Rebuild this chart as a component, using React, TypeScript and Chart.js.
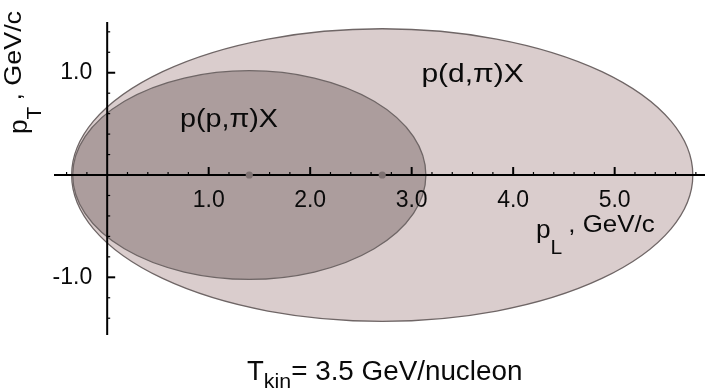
import React, { useEffect, useRef } from "react";
import { Chart, registerables } from "chart.js";

Chart.register(...registerables);

// Kinematic ellipses (p_L centre, semi-axis along p_L, semi-axis along p_T), GeV/c
const reactions = ["p(d,\u03c0)X", "p(p,\u03c0)X"];
const centerPL = [2.71, 1.4];
const semiPL = [3.06, 1.74];
const semiPT = [1.43, 1.02];

const xTickValues = [1, 2, 3, 4, 5];
const xTickLabels = ["1.0", "2.0", "3.0", "4.0", "5.0"];
const yTickValues = [1, -1];
const yTickLabels = ["1.0", "-1.0"];

const fills = ["#dacdcd", "#ac9d9d"];
const FONT = '"Liberation Sans", Arial, Helvetica, sans-serif';

// draws text stretched horizontally; returns advance width
function stretchedText(ctx: any, text: string, x: number, y: number, size: number, sx: number) {
  ctx.save();
  ctx.font = `${size}px ${FONT}`;
  ctx.translate(x, y);
  ctx.scale(sx, 1);
  ctx.fillText(text, 0, 0);
  const w = ctx.measureText(text).width * sx;
  ctx.restore();
  return w;
}

const kinematicsPlugin = {
  id: "kinematics",
  beforeDatasetsDraw(chart: any) {
    const { ctx, chartArea } = chart;
    const x = chart.scales.x;
    const y = chart.scales.y;
    const x0 = x.getPixelForValue(0);
    const y0 = y.getPixelForValue(0);
    ctx.save();
    for (let i = 0; i < reactions.length; i++) {
      const cx = x.getPixelForValue(centerPL[i]);
      const rx = x.getPixelForValue(centerPL[i] + semiPL[i]) - cx;
      const ry = y0 - y.getPixelForValue(semiPT[i]);
      ctx.beginPath();
      ctx.ellipse(cx, y0, rx, ry, 0, 0, Math.PI * 2);
      ctx.fillStyle = fills[i];
      ctx.fill();
      ctx.strokeStyle = "#6f6666";
      ctx.lineWidth = 1.3;
      ctx.stroke();
    }
    ctx.strokeStyle = "#000";
    ctx.lineWidth = 2;
    ctx.beginPath();
    ctx.moveTo(chartArea.left, y0);
    ctx.lineTo(chartArea.right, y0);
    ctx.moveTo(x0, chartArea.top);
    ctx.lineTo(x0, chartArea.bottom);
    ctx.stroke();
    const xs = Math.ceil(x.min * 5);
    const xe = Math.floor(x.max * 5);
    for (let k = xs; k <= xe; k++) {
      if (k === 0) continue;
      const px = x.getPixelForValue(k / 5);
      const major = k % 5 === 0;
      ctx.lineWidth = major ? 2 : 1.2;
      ctx.beginPath();
      ctx.moveTo(px, y0);
      ctx.lineTo(px, y0 - (major ? 8 : 3));
      ctx.stroke();
    }
    const ys = Math.ceil(y.min * 5);
    const ye = Math.floor(y.max * 5);
    for (let k = ys; k <= ye; k++) {
      if (k === 0) continue;
      const py = y.getPixelForValue(k / 5);
      const major = k % 5 === 0;
      ctx.lineWidth = major ? 2 : 1.2;
      ctx.beginPath();
      ctx.moveTo(x0, py);
      ctx.lineTo(x0 + (major ? 8 : 3), py);
      ctx.stroke();
    }
    ctx.restore();
  },
  afterDatasetsDraw(chart: any) {
    const { ctx } = chart;
    const x = chart.scales.x;
    const y = chart.scales.y;
    const x0 = x.getPixelForValue(0);
    const y0 = y.getPixelForValue(0);
    ctx.save();
    ctx.fillStyle = "#0a0a0a";
    ctx.font = `23px ${FONT}`;
    ctx.textBaseline = "middle";
    ctx.textAlign = "center";
    xTickValues.forEach((v, i) => {
      ctx.fillText(xTickLabels[i], x.getPixelForValue(v), y0 + 26);
    });
    ctx.textAlign = "right";
    yTickValues.forEach((v, i) => {
      ctx.fillText(yTickLabels[i], x0 - 15, y.getPixelForValue(v));
    });
    // reaction labels
    ctx.textAlign = "center";
    stretchedText(ctx, reactions[0], x.getPixelForValue(3.6), y.getPixelForValue(0.98), 25, 1.2);
    stretchedText(ctx, reactions[1], x.getPixelForValue(1.2), y.getPixelForValue(0.54), 25, 1.15);

    // x axis title
    ctx.textAlign = "left";
    ctx.textBaseline = "alphabetic";
    let tx = 536;
    const tyb = 238;
    tx += stretchedText(ctx, "p", tx, tyb, 25, 1.05);
    tx += stretchedText(ctx, "L", tx, tyb + 16, 20, 1.05) + 6;
    stretchedText(ctx, ", GeV/c", tx, tyb - 6, 24, 1.08);

    // y axis title (rotated)
    ctx.save();
    ctx.translate(27, 134);
    ctx.rotate(-Math.PI / 2);
    let ty = 0;
    ty += stretchedText(ctx, "p", ty, 0, 25, 1.05);
    ty += stretchedText(ctx, "T", ty, 14, 20, 1.05) + 6;
    stretchedText(ctx, ", GeV/c", ty, -6, 24, 1.12);
    ctx.restore();

    // caption
    let cx = 247;
    const cyb = 380;
    cx += stretchedText(ctx, "T", cx, cyb, 27, 1.02);
    cx += stretchedText(ctx, "kin", cx, cyb + 8, 21, 1.02);
    stretchedText(ctx, "= 3.5 GeV/nucleon", cx, cyb, 27, 1.03);
    ctx.restore();
  },
};

export default function App() {
  const ref = useRef<HTMLCanvasElement | null>(null);
  useEffect(() => {
    document.body.style.margin = "0";
    const canvas = ref.current;
    if (!canvas) return;
    const chart = new Chart(canvas, {
      type: "scatter",
      data: {
        datasets: [
          {
            label: "centres",
            data: centerPL.map((c) => ({ x: c, y: 0 })),
            pointRadius: 3.6,
            pointBackgroundColor: "#7e7272",
            pointBorderWidth: 0,
          },
        ],
      },
      options: {
        animation: false,
        responsive: false,
        devicePixelRatio: 1,
        layout: { padding: { left: 54, right: 0, top: 22, bottom: 57 } },
        plugins: { legend: { display: false }, tooltip: { enabled: false } },
        events: [],
        scales: {
          x: { type: "linear", min: -0.524, max: 5.89, display: false },
          y: { type: "linear", min: -1.564, max: 1.496, display: false },
        },
      },
      plugins: [kinematicsPlugin],
    });
    return () => chart.destroy();
  }, []);
  return (
    <div style={{ width: 709, height: 392, background: "#fff" }}>
      <canvas ref={ref} width={709} height={392} />
    </div>
  );
}
